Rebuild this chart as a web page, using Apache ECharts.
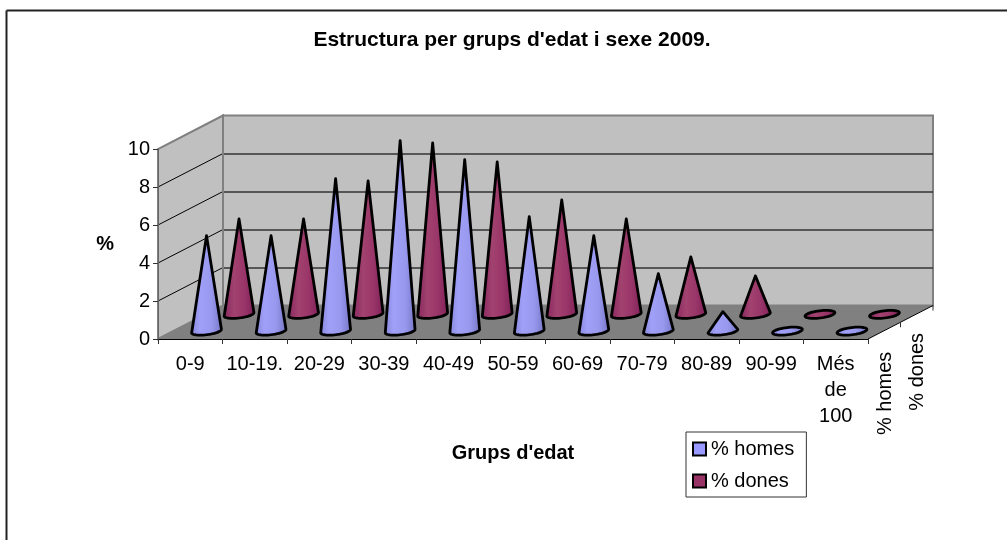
<!DOCTYPE html>
<html><head><meta charset="utf-8">
<style>html,body{margin:0;padding:0;background:#fff}#c{width:1007px;height:540px}</style>
<script src="https://cdn.jsdelivr.net/npm/echarts@6/dist/echarts.min.js"></script>
</head><body><div id="c"></div>
<script>
const categories = ['0-9','10-19.','20-29','30-39','40-49','50-59','60-69','70-79','80-89','90-99','Més\nde\n100'];
const homes = [5,5,8,10,9,6,5,3,1,0,0];
const dones = [5,5,7,9,8,6,5,3,2,0,0];
const seriesNames = ['% homes','% dones'];
const gridValues = [2,4,6,8,10];
const FONT = '"Liberation Sans", Arial, sans-serif';
const DX = 65, DY = -33.5;       // oblique projection of the chart's depth
const G = echarts.graphic;
const homesFill = new G.LinearGradient(0,0,1,0,[{offset:0,color:'#8484d8'},{offset:.3,color:'#a0a0f8'},{offset:.65,color:'#9898ee'},{offset:1,color:'#7474c4'}]);
const donesFill = new G.LinearGradient(0,0,1,0,[{offset:0,color:'#86265f'},{offset:.35,color:'#a2426f'},{offset:.65,color:'#9a3669'},{offset:1,color:'#7e2058'}]);

function coneRender(depth, fill){
  return function(params, api){
    const i = api.value(0), v = api.value(1);
    const b = api.coord([i,0]), t = api.coord([i,v]);
    const cx = b[0] + depth*DX, cy = b[1] + depth*DY + 0.5;
    const tx = cx, ty = t[1] + depth*DY;
    const rx = 15, ry = 3.6, rot = -7*Math.PI/180;
    const pts = [];
    const pt = a => {
      const x = rx*Math.cos(a), y = ry*Math.sin(a);
      return [cx + x*Math.cos(rot) - y*Math.sin(rot), cy + x*Math.sin(rot) + y*Math.cos(rot)];
    };
    if (v > 0) {
      pts.push([tx,ty]);
      for (let k=0;k<=24;k++) pts.push(pt(Math.PI - k/24*Math.PI));
    } else {
      for (let k=0;k<48;k++) pts.push(pt(k/48*2*Math.PI));
    }
    return {type:'polygon', shape:{points:pts},
      style:{fill:fill, stroke:'#000', lineWidth:2.8, lineJoin:'round'}};
  };
}

function wallRender(params, api){
  const cs = params.coordSys;
  const L = cs.x, R = cs.x+cs.width, T = cs.y, B = cs.y+cs.height;
  const kids = [];
  const poly = (pts,fill,stroke,w)=>kids.push({type:'polygon',shape:{points:pts},style:{fill:fill,stroke:stroke||null,lineWidth:w||0}});
  const line = (x1,y1,x2,y2,c,w)=>kids.push({type:'line',shape:{x1,y1,x2,y2},style:{stroke:c,lineWidth:w||1}});
  poly([[L+DX,T+DY],[R+DX,T+DY],[R+DX,B+DY],[L+DX,B+DY]],'#c0c0c0','#808080',2);
  poly([[L,B],[L,T],[L+DX,T+DY],[L+DX,B+DY]],'#c0c0c0','#808080',2);
  poly([[L,B],[R,B],[R+DX,B+DY],[L+DX,B+DY]],'#808080');
  gridValues.forEach(v=>{
    const y = Math.round(api.coord([0,v])[1]);
    if (v<10) {
      line(L,y,L+DX,y+DY,'#000',1);
      line(L+DX,y+DY+0.5,R+DX,y+DY+0.5,'#333',1.5);
    }
  });
  line(L+DX,T+DY,L+DX,B+DY,'#808080',2);
  line(R,B,R+DX,B+DY,'#000',1);
  [.5,1].forEach(d=>line(R+d*DX,B+d*DY,R+d*DX,B+d*DY+5,'#333',1));
  [[.25,seriesNames[0],21],[.75,seriesNames[1],19]].forEach(a=>{
    kids.push({type:'text',x:R+a[0]*DX+1,y:B+a[0]*DY+a[2],rotation:Math.PI/2,
      style:{text:a[1],align:'right',verticalAlign:'middle',font:'20px '+FONT,fill:'#000'}});
  });
  return {type:'group',children:kids};
}

const chart = echarts.init(document.getElementById('c'),null,{renderer:'canvas'});
chart.setOption({
  animation:false,
  backgroundColor:'#fff',
  title:{text:"Estructura per grups d'edat i sexe 2009.",left:507,top:25,textAlign:'center',
    textStyle:{fontFamily:FONT,fontSize:21,fontWeight:'bold',color:'#000'}},
  grid:{left:158,right:139,top:149,bottom:201,containLabel:false},
  xAxis:{type:'category',data:categories,z:3,
    name:"Grups d'edat",nameLocation:'middle',nameGap:104,
    nameTextStyle:{fontFamily:FONT,fontSize:20,fontWeight:'bold',color:'#000'},
    axisLine:{lineStyle:{color:'#000',width:1}},
    axisTick:{show:true,length:5,lineStyle:{color:'#333'}},
    axisLabel:{interval:0,margin:12,lineHeight:26,fontFamily:FONT,fontSize:20,color:'#000',hideOverlap:false},
    splitLine:{show:false}},
  yAxis:{type:'value',min:0,max:10,interval:2,z:3,
    name:'%',nameLocation:'middle',nameGap:44,nameRotate:0,
    nameTextStyle:{fontFamily:FONT,fontSize:20,fontWeight:'bold',color:'#000',padding:[4,0,0,0]},
    axisLine:{show:true,lineStyle:{color:'#666',width:1}},
    axisTick:{show:true,length:5,lineStyle:{color:'#333'}},
    axisLabel:{margin:8,fontFamily:FONT,fontSize:20,color:'#000'},
    splitLine:{show:false}},
  legend:{left:686,top:432,orient:'vertical',itemWidth:13,itemHeight:13,itemGap:12,
    padding:[7,12,6,6],borderColor:'#333',borderWidth:1,backgroundColor:'#fff',
    textStyle:{fontFamily:FONT,fontSize:20,color:'#000'},
    data:[
      {name:seriesNames[0],icon:'rect',itemStyle:{color:'#9999ff',borderColor:'#000',borderWidth:2}},
      {name:seriesNames[1],icon:'rect',itemStyle:{color:'#993366',borderColor:'#000',borderWidth:2}}]},
  graphic:[
    {type:'line',shape:{x1:6.5,y1:10.5,x2:1007,y2:10.5},style:{stroke:'#222',lineWidth:2}},
    {type:'line',shape:{x1:6.5,y1:10.5,x2:6.5,y2:540},style:{stroke:'#222',lineWidth:2}}
  ],
  series:[
    {type:'custom',name:'walls',z:1,silent:true,renderItem:wallRender,data:[[0,0]],encode:{x:0,y:1}},
    {type:'custom',name:seriesNames[1],z:4,silent:true,itemStyle:{color:'#993366'},renderItem:coneRender(.75,donesFill),
      data:dones.map((v,i)=>[i,v]),encode:{x:0,y:1}},
    {type:'custom',name:seriesNames[0],z:5,silent:true,itemStyle:{color:'#9999ff'},renderItem:coneRender(.25,homesFill),
      data:homes.map((v,i)=>[i,v]),encode:{x:0,y:1}}
  ]
});
</script></body></html>
